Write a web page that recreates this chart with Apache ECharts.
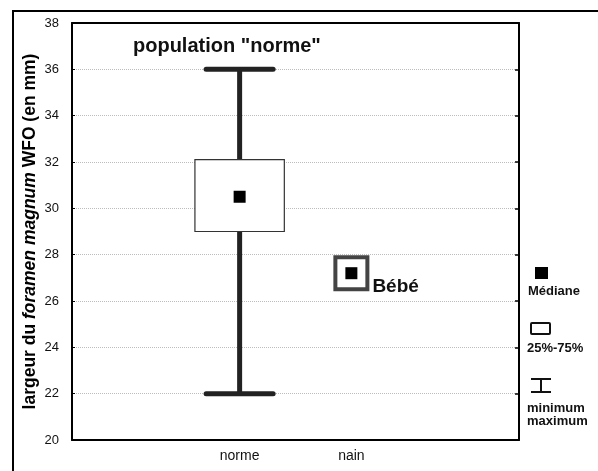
<!DOCTYPE html>
<html>
<head>
<meta charset="utf-8">
<script src="https://cdn.jsdelivr.net/npm/echarts@6/dist/echarts.min.js"></script>
<style>
html,body{margin:0;padding:0;background:#fff;}
#c{width:598px;height:471px;}
</style>
</head>
<body>
<div id="c"></div>
<script>
// categories on the x axis (outer two are empty slots)
const categories = ['', 'norme', 'nain', ''];
const yTicks = [20, 22, 24, 26, 28, 30, 32, 34, 36, 38];
// population "norme": [category index, min, q1, median, q3, max]
const normeStats = [[1, 22, 29, 30.5, 32.1, 36]];
// medians
const medianPoints = [['norme', 30.5], ['nain', 27.2]];
// the baby (Bébé) single value
const bebePoint = [['nain', 27.2]];

const FONT = '"Liberation Sans", Arial, Helvetica, sans-serif';
const chart = echarts.init(document.getElementById('c'), null, {renderer: 'canvas'});

const option = {
  animation: false,
  backgroundColor: '#fff',
  grid: {left: 72, top: 23, right: 79, bottom: 31, containLabel: false},
  xAxis: [
    {
      type: 'category', data: categories, boundaryGap: true, position: 'bottom',
      axisLine: {lineStyle: {color: '#000', width: 2}},
      axisTick: {inside: true, alignWithLabel: true, length: 4, lineStyle: {color: '#000', width: 1.5}},
      axisLabel: {color: '#111', fontFamily: FONT, fontSize: 14, margin: 9},
      splitLine: {show: false}
    },
    {
      type: 'category', data: categories, boundaryGap: true, position: 'top',
      axisLine: {lineStyle: {color: '#000', width: 2}},
      axisTick: {inside: true, alignWithLabel: true, length: 4, lineStyle: {color: '#000', width: 1.5}},
      axisLabel: {show: false},
      splitLine: {show: false}
    }
  ],
  yAxis: [
    {
      type: 'value', min: 20, max: 38, interval: 2, position: 'left',
      name: '{b|largeur du }{i|foramen magnum}{b| WFO (en mm)}',
      nameLocation: 'middle', nameGap: 33, nameRotate: 90, nameMoveOverlap: false,
      nameTextStyle: {
        rich: {
          b: {fontFamily: FONT, fontWeight: 'bold', fontSize: 17.5, color: '#000'},
          i: {fontFamily: FONT, fontWeight: 'bold', fontStyle: 'italic', fontSize: 17.5, color: '#000'}
        }
      },
      axisLine: {show: true, lineStyle: {color: '#000', width: 2}},
      axisTick: {show: true, inside: true, length: 3, lineStyle: {color: '#000'}},
      axisLabel: {color: '#111', fontFamily: FONT, fontSize: 13, margin: 13},
      splitLine: {show: true, lineStyle: {color: '#bdbdbd', type: [1, 1], width: 1}}
    },
    {
      type: 'value', min: 20, max: 38, interval: 2, position: 'right',
      axisLine: {show: true, lineStyle: {color: '#000', width: 2}},
      axisTick: {show: true, inside: true, length: 4, lineStyle: {color: '#000', width: 1.5}},
      axisLabel: {show: false},
      splitLine: {show: false}
    }
  ],
  series: [
    {
      type: 'custom',
      xAxisIndex: 0, yAxisIndex: 0,
      data: normeStats,
      renderItem: function (params, api) {
        const x = api.value(0);
        const pMin = api.coord([x, api.value(1)]);
        const pQ1 = api.coord([x, api.value(2)]);
        const pQ3 = api.coord([x, api.value(4)]);
        const pMax = api.coord([x, api.value(5)]);
        const band = api.size([1, 0])[0];
        const bw = band * 0.8;
        const cw = band * 0.6;
        const lineStyle = {stroke: '#222', lineWidth: 5, lineCap: 'round'};
        return {
          type: 'group',
          children: [
            {type: 'line', shape: {x1: pMin[0], y1: pMin[1], x2: pMax[0], y2: pMax[1]}, style: {stroke: '#222', lineWidth: 5}},
            {type: 'line', shape: {x1: pMax[0] - cw / 2, y1: pMax[1], x2: pMax[0] + cw / 2, y2: pMax[1]}, style: lineStyle},
            {type: 'line', shape: {x1: pMin[0] - cw / 2, y1: pMin[1], x2: pMin[0] + cw / 2, y2: pMin[1]}, style: lineStyle},
            {type: 'rect', shape: {x: pQ3[0] - bw / 2, y: pQ3[1], width: bw, height: pQ1[1] - pQ3[1]},
             style: {fill: '#fff', stroke: '#333', lineWidth: 1.2}}
          ]
        };
      },
      z: 2
    },
    {
      type: 'scatter', xAxisIndex: 0, yAxisIndex: 0,
      data: bebePoint,
      symbol: 'rect', symbolSize: 32,
      itemStyle: {color: '#fff', borderColor: '#444', borderWidth: 4, opacity: 1},
      label: {
        show: true, formatter: 'Bébé', position: 'right', offset: [-2, 14],
        fontFamily: FONT, fontWeight: 'bold', fontSize: 19, color: '#111'
      },
      z: 3
    },
    {
      type: 'scatter', xAxisIndex: 0, yAxisIndex: 0,
      data: medianPoints,
      symbol: 'rect', symbolSize: 12,
      itemStyle: {color: '#000', opacity: 1},
      z: 4
    }
  ],
  graphic: [
    {type: 'rect', left: 12, top: 10, shape: {x: 0, y: 0, width: 600, height: 480},
     style: {fill: 'transparent', stroke: '#000', lineWidth: 2}, silent: true},
    {type: 'text', left: 133, top: 36,
     style: {text: 'population "norme"', font: 'bold 20px ' + FONT, fill: '#111'}},
    // legend
    {type: 'rect', shape: {x: 535, y: 267, width: 13, height: 12}, style: {fill: '#000'}},
    {type: 'text', left: 528, top: 285, style: {text: 'Médiane', font: 'bold 13px ' + FONT, fill: '#111'}},
    {type: 'rect', shape: {x: 531, y: 323, width: 19, height: 11, r: 1}, style: {fill: '#fff', stroke: '#111', lineWidth: 2}},
    {type: 'text', left: 527, top: 342, style: {text: '25%-75%', font: 'bold 13px ' + FONT, fill: '#111'}},
    {type: 'line', shape: {x1: 531, y1: 379, x2: 551, y2: 379}, style: {stroke: '#111', lineWidth: 2}},
    {type: 'line', shape: {x1: 531, y1: 392, x2: 551, y2: 392}, style: {stroke: '#111', lineWidth: 2}},
    {type: 'line', shape: {x1: 541, y1: 379, x2: 541, y2: 392}, style: {stroke: '#111', lineWidth: 2}},
    {type: 'text', left: 527, top: 402, style: {text: 'minimum', font: 'bold 13px ' + FONT, fill: '#111'}},
    {type: 'text', left: 527, top: 415, style: {text: 'maximum', font: 'bold 13px ' + FONT, fill: '#111'}}
  ]
};
chart.setOption(option);
</script>
</body>
</html>
